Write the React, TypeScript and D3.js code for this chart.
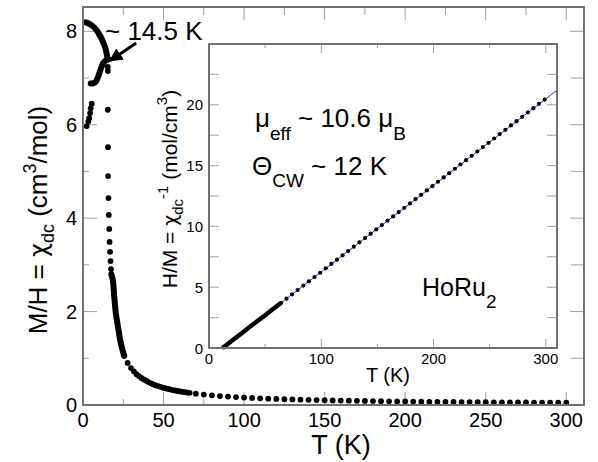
import * as d3 from 'd3'

// main panel: M/H vs T
const arcT = [1.7, 4, 6.4, 8, 9.6, 11, 12.3, 13.3, 14.2, 15.2]
const arcChi = [8.19, 8.16, 8.1, 8.04, 7.96, 7.88, 7.78, 7.7, 7.6, 7.42]

const sT = [4.8, 6.5, 8, 8.8, 9.6, 10.4, 11.2, 12, 12.8, 13.6, 14.6, 15.8]
const sChi = [6.88, 6.89, 6.92, 6.98, 7.05, 7.13, 7.21, 7.28, 7.33, 7.36, 7.38, 7.4]

const lowT = [2.3, 3.3, 3.8, 4.4, 4.8, 5.4]
const lowChi = [5.97, 6.07, 6.14, 6.25, 6.35, 6.45]

const jumpT = [15.4, 15.4, 15.4, 15.5, 15.6, 15.8, 16.0, 16.3, 16.5, 16.8, 17.1, 17.4]
const jumpChi = [7.24, 7.15, 6.32, 5.52, 4.9, 4.43, 4.07, 3.77, 3.49, 3.28, 3.08, 2.91]

const steepT = [17.6, 18.5, 19.4, 20.4, 21.7, 23.1, 24.8, 25.6]
const steepChi = [2.8, 2.68, 2.32, 1.96, 1.68, 1.39, 1.14, 1.05]

const tailT = [27.7, 29.8, 31.6, 33.2, 34.7, 36.2, 37.7, 39.2, 40.7, 42.2, 43.7, 45.2, 46.7, 48.2, 49.7, 51.2, 52.7, 54.2, 55.7, 57.2, 58.7, 60.2, 61.7, 63.2, 64.7, 66.2,
  70, 75, 80, 85, 90, 95, 100, 105, 110, 115, 120, 125, 130, 135, 140, 145, 150, 155, 160, 165, 170, 175, 180, 185, 190, 195, 200, 205, 210, 215, 220, 225, 230, 235, 240, 245, 250, 255, 260, 265, 270, 275, 280, 285, 290, 295, 300]
const tailChi = [0.9, 0.79, 0.72, 0.66, 0.62, 0.58, 0.55, 0.52, 0.49, 0.465, 0.44, 0.42, 0.405, 0.39, 0.37, 0.36, 0.345, 0.333, 0.32, 0.31, 0.3, 0.29, 0.283, 0.274, 0.267, 0.26,
  0.242, 0.223, 0.207, 0.192, 0.18, 0.169, 0.16, 0.151, 0.143, 0.136, 0.13, 0.124, 0.119, 0.114, 0.11, 0.106, 0.102, 0.098, 0.095, 0.092, 0.089, 0.086, 0.084, 0.081, 0.079, 0.077, 0.075, 0.073, 0.071, 0.069, 0.068, 0.066, 0.064, 0.063, 0.062, 0.06, 0.059, 0.058, 0.057, 0.056, 0.054, 0.053, 0.052, 0.052, 0.051, 0.05, 0.049]

// inset: H/M vs T
const invDenseT = [13, 15, 20, 25, 30, 35, 40, 45, 50, 55, 60, 64]
const invDense = [0.07, 0.21, 0.57, 0.93, 1.28, 1.64, 1.99, 2.35, 2.7, 3.06, 3.42, 3.7]
const invT = [69, 74, 79, 84, 89, 94, 99, 104, 109, 114, 119, 124, 129, 134, 139, 144, 149, 154, 159, 164, 169, 174, 179, 184, 189, 194, 199, 204, 209, 214, 219, 224, 229, 234, 239, 244, 249, 254, 259, 264, 269, 274, 279, 284, 289, 294, 299]
const invVal = [4.06, 4.41, 4.77, 5.13, 5.48, 5.84, 6.19, 6.55, 6.91, 7.26, 7.62, 7.97, 8.33, 8.69, 9.04, 9.4, 9.75, 10.11, 10.47, 10.82, 11.18, 11.53, 11.89, 12.25, 12.6, 12.96, 13.31, 13.67, 14.03, 14.38, 14.74, 15.09, 15.45, 15.81, 16.16, 16.52, 16.87, 17.23, 17.59, 17.94, 18.3, 18.65, 19.01, 19.37, 19.72, 20.08, 20.43]
const fitT = [12, 310]
const fitVal = [0, 21.2]

const mainXMajor = [0, 50, 100, 150, 200, 250, 300]
const mainXMinor = [25, 75, 125, 175, 225, 275]
const mainYMajor = [0, 2, 4, 6, 8]
const mainYMinor = [1, 3, 5, 7]
const inXMajor = [0, 100, 200, 300]
const inXMinor = [50, 150, 250]
const inYMajor = [0, 5, 10, 15, 20]
const inYMinor = [2.5, 7.5, 12.5, 17.5, 22.5]

const FONT = 'Liberation Sans, Arial, Helvetica, sans-serif'
const GREEK = 'DejaVu Sans, Noto Sans, sans-serif'
const FRAME = '#707070'
const TICK = '#a0a0a0'

const zip = (a: number[], b: number[]) => a.map((v, i) => [v, b[i]] as [number, number])

export default function App() {
  const x = d3.scaleLinear().domain([0, 311]).range([83, 584])
  const y = d3.scaleLinear().domain([0, 8.52]).range([405, 7])
  const xi = d3.scaleLinear().domain([0, 310]).range([209, 557])
  const yi = d3.scaleLinear().domain([0, 25]).range([348, 44])

  const lineMain = d3
    .line<[number, number]>()
    .x((d) => x(d[0]))
    .y((d) => y(d[1]))
    .curve(d3.curveCatmullRom)
  const lineIn = d3
    .line<[number, number]>()
    .x((d) => xi(d[0]))
    .y((d) => yi(d[1]))

  const [x0, x1] = x.range()
  const [y0, y1] = y.range()
  const [ix0, ix1] = xi.range()
  const [iy0, iy1] = yi.range()

  const mainDots = [...zip(lowT, lowChi), ...zip(jumpT, jumpChi), ...zip(tailT, tailChi)]

  return (
    <svg width={598} height={462} style={{ position: 'absolute', left: 0, top: 0, background: '#fff' }} fontFamily={FONT}>
      {/* main ticks */}
      {mainXMajor.map((t) => (
        <g key={'mx' + t}>
          <line x1={x(t)} x2={x(t)} y1={y0} y2={y0 - 13} stroke={TICK} />
          <line x1={x(t)} x2={x(t)} y1={y1} y2={y1 + 13} stroke={TICK} />
          <text x={x(t)} y={427} fontSize={20} textAnchor="middle">{t}</text>
        </g>
      ))}
      {mainXMinor.map((t) => (
        <g key={'mxm' + t}>
          <line x1={x(t)} x2={x(t)} y1={y0} y2={y0 - 6} stroke={TICK} />
          <line x1={x(t)} x2={x(t)} y1={y1} y2={y1 + 8} stroke={TICK} />
        </g>
      ))}
      {mainYMajor.map((t) => (
        <g key={'my' + t}>
          <line x1={x0} x2={x0 + 14} y1={y(t)} y2={y(t)} stroke={TICK} />
          <line x1={x1} x2={x1 - 14} y1={y(t)} y2={y(t)} stroke={TICK} />
          <text x={77} y={y(t) + 7} fontSize={20} textAnchor="end">{t}</text>
        </g>
      ))}
      {mainYMinor.map((t) => (
        <g key={'mym' + t}>
          <line x1={x0} x2={x0 + 6} y1={y(t)} y2={y(t)} stroke={TICK} />
          <line x1={x1} x2={x1 - 13} y1={y(t)} y2={y(t)} stroke={TICK} />
        </g>
      ))}

      {/* main data */}
      <g fill="none" stroke="#000" strokeWidth={6} strokeLinecap="round" strokeLinejoin="round">
        <path d={lineMain(zip(arcT, arcChi)) || ''} />
        <path d={lineMain(zip(sT, sChi)) || ''} />
        <path d={lineMain(zip(steepT, steepChi)) || ''} />
      </g>
      {mainDots.map((d, i) => (
        <circle key={'md' + i} cx={x(d[0])} cy={y(d[1])} r={2.9} fill="#000" />
      ))}

      <rect x={x0} y={y1} width={x1 - x0} height={y0 - y1} fill="none" stroke={FRAME} strokeWidth={2} />

      {/* inset */}
      <rect x={ix0} y={iy1} width={ix1 - ix0} height={iy0 - iy1} fill="#fff" />
      {inXMajor.map((t) => (
        <g key={'ix' + t}>
          <line x1={xi(t)} x2={xi(t)} y1={iy0} y2={iy0 - 9} stroke={TICK} />
          <line x1={xi(t)} x2={xi(t)} y1={iy1} y2={iy1 + 9} stroke={TICK} />
          <text x={xi(t)} y={364} fontSize={15} textAnchor="middle">{t}</text>
        </g>
      ))}
      {inXMinor.map((t) => (
        <g key={'ixm' + t}>
          <line x1={xi(t)} x2={xi(t)} y1={iy0} y2={iy0 - 4} stroke={TICK} />
          <line x1={xi(t)} x2={xi(t)} y1={iy1} y2={iy1 + 4} stroke={TICK} />
        </g>
      ))}
      {inYMajor.map((t) => (
        <g key={'iy' + t}>
          <line x1={ix0} x2={ix0 + 10} y1={yi(t)} y2={yi(t)} stroke={TICK} />
          <line x1={ix1} x2={ix1 - 10} y1={yi(t)} y2={yi(t)} stroke={TICK} />
          <text x={203} y={yi(t) + 5.5} fontSize={15} textAnchor="end">{t}</text>
        </g>
      ))}
      {inYMinor.map((t) => (
        <g key={'iym' + t}>
          <line x1={ix0} x2={ix0 + 10} y1={yi(t)} y2={yi(t)} stroke={TICK} />
          <line x1={ix1} x2={ix1 - 10} y1={yi(t)} y2={yi(t)} stroke={TICK} />
        </g>
      ))}

      <path d={lineIn(zip(fitT, fitVal)) || ''} stroke="#2233ff" strokeWidth={1} fill="none" />
      <path d={lineIn(zip(invDenseT, invDense)) || ''} stroke="#000" strokeWidth={4.5} strokeLinecap="round" fill="none" />
      {zip(invT, invVal).map((d, i) => (
        <circle key={'id' + i} cx={xi(d[0])} cy={yi(d[1])} r={2.1} fill="#000" />
      ))}
      <rect x={ix0} y={iy1} width={ix1 - ix0} height={iy0 - iy1} fill="none" stroke={FRAME} strokeWidth={2} />

      {/* axis titles */}
      <text x={341} y={454} fontSize={27} textAnchor="middle">T (K)</text>
      <text transform="translate(47,220) rotate(-90)" fontSize={26} textAnchor="middle">
        M/H = <tspan fontFamily={GREEK} fontSize={24}>χ</tspan><tspan fontSize={18} dy={7}>dc</tspan>
        <tspan dy={-7}> (cm</tspan>
        <tspan fontSize={18} dy={-11}>3</tspan>
        <tspan dy={11}>/mol)</tspan>
      </text>
      <text x={388} y={382} fontSize={20} textAnchor="middle">T (K)</text>
      <text transform="translate(177,189) rotate(-90)" fontSize={21} textAnchor="middle">
        H/M = <tspan fontFamily={GREEK} fontSize={19}>χ</tspan><tspan fontSize={15} dy={6}>dc</tspan>
        <tspan fontSize={15} dy={-15}>-1</tspan>
        <tspan dy={9}> (mol/cm</tspan>
        <tspan fontSize={15} dy={-10}>3</tspan>
        <tspan dy={10}>)</tspan>
      </text>

      {/* annotations */}
      <text x={255} y={127} fontSize={26}>
        μ<tspan fontSize={19} dy={13}>eff</tspan>
        <tspan dy={-13}> ~ 10.6 μ</tspan>
        <tspan fontSize={19} dy={13}>B</tspan>
      </text>
      <text x={252} y={175} fontSize={26}>
        Θ<tspan fontSize={19} dy={12}>CW</tspan>
        <tspan dy={-12}> ~ 12 K</tspan>
      </text>
      <text x={422} y={296} fontSize={25}>
        HoRu<tspan fontSize={19} dy={12}>2</tspan>
      </text>
      <text x={105} y={40} fontSize={26}>~ 14.5 K</text>

      <defs>
        <marker id="ah" viewBox="0 0 10 10" refX={9} refY={5} markerWidth={4.5} markerHeight={4.5} orient="auto">
          <path d="M0,0 L10,5 L0,10 z" fill="#000" />
        </marker>
      </defs>
      <line x1={x(33)} y1={y(7.75)} x2={x(16.8)} y2={y(7.37)} stroke="#000" strokeWidth={3} markerEnd="url(#ah)" />
    </svg>
  )
}
